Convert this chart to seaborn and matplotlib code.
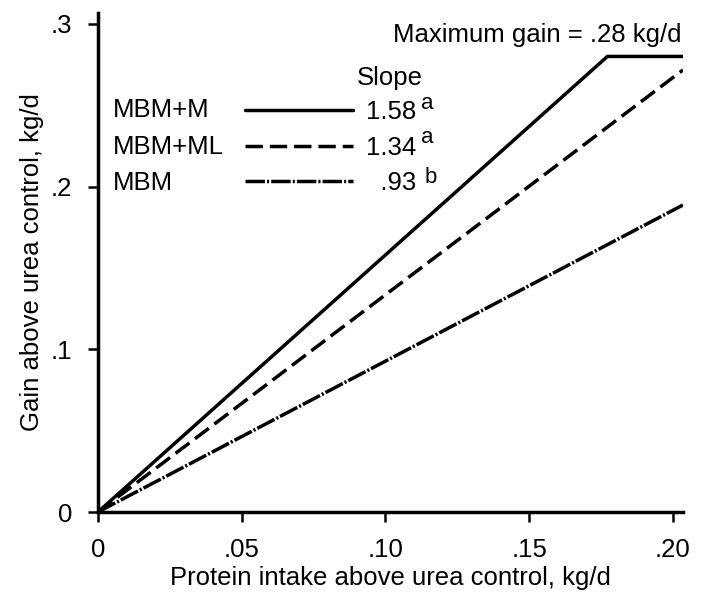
import numpy as np
import pandas as pd
import matplotlib
matplotlib.use("Agg")
import matplotlib.pyplot as plt
from matplotlib.lines import Line2D
import seaborn as sns

# line end points
diets = ["MBM+M", "MBM+ML", "MBM"]
x_mbm_m = [0, 0.1772, 0.2035]
y_mbm_m = [0, 0.280, 0.280]
x_mbm_ml = [0, 0.2035]
y_mbm_ml = [0, 0.2717]
x_mbm = [0, 0.2035]
y_mbm = [0, 0.1887]
slopes = ["1.58", "1.34", "\u2007.93"]
sig = ["a", "a", "b"]
xticks = [0, 0.05, 0.10, 0.15, 0.20]
xticklabels = ["0", ".05", ".10", ".15", ".20"]
yticks = [0, 0.1, 0.2, 0.3]
yticklabels = ["0", ".1", ".2", ".3"]

df = pd.concat([
    pd.DataFrame({"x": x_mbm_m, "y": y_mbm_m, "diet": "MBM+M"}),
    pd.DataFrame({"x": x_mbm_ml, "y": y_mbm_ml, "diet": "MBM+ML"}),
    pd.DataFrame({"x": x_mbm, "y": y_mbm, "diet": "MBM"}),
])

sns.set_theme(style="ticks")
plt.rcParams["font.family"] = ["Liberation Sans", "DejaVu Sans"]
plt.rcParams["text.color"] = "black"
plt.rcParams["axes.labelcolor"] = "black"

lw = 2.5
dashes = {"MBM+M": "", "MBM+ML": (5.0, 2.0), "MBM": (5.6, 0.6, 0.6, 0.6)}
fs = 18.5

fig = plt.figure(figsize=(7.01, 5.92), dpi=100)
ax = fig.add_axes([98 / 701, 80 / 592, 585 / 701, 499 / 592])
sns.lineplot(data=df, x="x", y="y", hue="diet", style="diet",
             palette=["black"] * 3, dashes=dashes, sort=False,
             linewidth=lw, legend=False, ax=ax)
for ln in ax.get_lines():
    ln.set_dash_capstyle("butt")

ax.set_xlim(0, 0.2035)
ax.set_ylim(0, 0.3067)
ax.set_xticks(xticks)
ax.set_xticklabels(xticklabels)
ax.set_yticks(yticks)
ax.set_yticklabels(yticklabels)
ax.tick_params(axis="both", direction="out", length=7.5, width=1.8,
               labelsize=fs, colors="black")
ax.tick_params(axis="y", pad=11)
ax.tick_params(axis="x", pad=11)
for s in ["top", "right"]:
    ax.spines[s].set_visible(False)
for s in ["left", "bottom"]:
    ax.spines[s].set_linewidth(2.5)
    ax.spines[s].set_color("black")

ax.set_xlabel("Protein intake above urea control, kg/d", fontsize=fs, labelpad=3)
ax.set_ylabel("Gain above urea control, kg/d", fontsize=fs, labelpad=5)

# legend: line key then slope, names and significance letters as text
handles = [Line2D([], [], color="black", lw=lw, dashes=dashes[d]) if dashes[d]
           else Line2D([], [], color="black", lw=lw) for d in diets]
leg = ax.legend(handles, slopes, loc="upper left", bbox_to_anchor=(0.251, 0.826),
                frameon=False, fontsize=fs, handlelength=4.2, handletextpad=0.5,
                labelspacing=0.46, borderaxespad=0, borderpad=0)
leg_y = [0.247, 0.2243, 0.2022]
for name, yy in zip(diets, leg_y):
    ax.text(0.0052, yy, name, fontsize=fs, va="center", ha="left")
sig_x = [0.1125, 0.1125, 0.1135]
sig_y = [0.2480, 0.2265, 0.2025]
for s, xx, yy in zip(sig, sig_x, sig_y):
    ax.text(xx, yy, s, fontsize=16, va="baseline", ha="left")
ax.text(0.0901, 0.2667, "Slope", fontsize=fs, va="center", ha="left")
ax.text(0.2031, 0.2932, "Maximum gain = .28 kg/d", fontsize=fs, va="center", ha="right")

fig.savefig("out.png", dpi=100)
